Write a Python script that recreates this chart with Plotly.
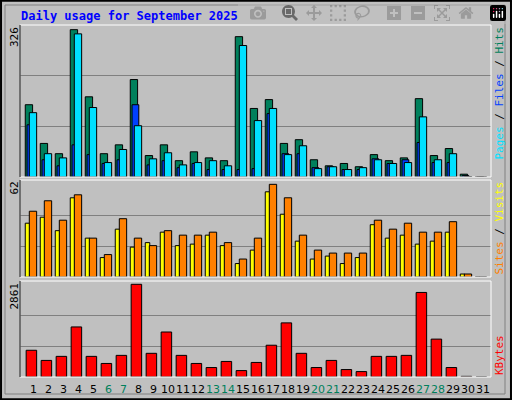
import plotly.graph_objects as go

days = list(range(1, 32))
weekend_days = [6, 7, 13, 14, 20, 21, 27, 28]

hits = [155, 72, 50, 316, 172, 50, 69, 209, 46, 69, 35, 54, 41, 35, 301, 147,
        166, 72, 80, 37, 24, 29, 22, 48, 35, 41, 168, 46, 61, 6, 0]
files = [138, 50, 41, 307, 149, 31, 59, 110, 39, 52, 26, 31, 35, 24, 282, 121,
         147, 48, 67, 18, 22, 16, 20, 37, 29, 31, 129, 37, 50, 1, 0]
pages = [112, 37, 24, 69, 48, 29, 37, 155, 26, 35, 20, 29, 16, 16, 16, 18,
         136, 50, 50, 20, 22, 16, 16, 39, 29, 37, 74, 31, 31, 3, 0]
visits = [44, 51, 38, 55, 26, 15, 39, 26, 21, 31, 28, 28, 30, 23, 12, 26,
          62, 53, 28, 18, 16, 16, 16, 38, 32, 36, 30, 30, 37, 2, 0]
sites = [36, 40, 31, 53, 26, 13, 32, 20, 23, 30, 21, 22, 28, 21, 9, 18,
         57, 42, 24, 12, 14, 9, 13, 35, 26, 28, 22, 24, 30, 2, 0]
kbytes = [825, 512, 637, 1545, 637, 418, 668, 2861, 731, 1389, 668, 418, 292, 480,
          198, 449, 981, 1670, 731, 292, 512, 230, 167, 637, 637, 668, 2610, 1169,
          292, 20, 0]

MAX_TOP, MAX_MID, MAX_BOT = 326, 62, 2861
BG = "#c0c0c0"
line = dict(color="black", width=1)

fig = go.Figure()
fig.add_bar(x=days, y=hits, offset=-0.52, width=0.49, marker=dict(color="#00805c", line=line),
            xaxis="x", yaxis="y")
fig.add_bar(x=days, y=pages, offset=-0.4, width=0.45, marker=dict(color="#0040ff", line=line),
            xaxis="x", yaxis="y")
fig.add_bar(x=days, y=files, offset=-0.25, width=0.49, marker=dict(color="#00e0ff", line=line),
            xaxis="x", yaxis="y")
fig.add_bar(x=days, y=sites, offset=-0.52, width=0.3, marker=dict(color="#ffff00", line=line),
            xaxis="x2", yaxis="y2")
fig.add_bar(x=days, y=visits, offset=-0.25, width=0.49, marker=dict(color="#ff8000", line=line),
            xaxis="x2", yaxis="y2")
fig.add_bar(x=days, y=kbytes, offset=-0.46, width=0.7, marker=dict(color="#ff0000", line=line),
            xaxis="x3", yaxis="y3")

xd = [20 / 512, 491 / 512]
xr = [0.13, 31.53]
xax = dict(domain=xd, range=xr, showgrid=False, showticklabels=False, zeroline=False,
           fixedrange=True)


def yax(dom, top, mx):
    return dict(domain=dom, range=[0, top], tickvals=[mx / 3, 2 * mx / 3], showticklabels=False,
                showgrid=True, gridcolor="#808080", gridwidth=1, zeroline=False)


fig.update_layout(
    width=512, height=400, margin=dict(l=0, r=0, t=0, b=0),
    paper_bgcolor=BG, plot_bgcolor=BG, showlegend=False, barmode="overlay",
    xaxis=dict(xax, anchor="y"), xaxis2=dict(xax, anchor="y2"), xaxis3=dict(xax, anchor="y3"),
    yaxis=dict(yax([0.5575, 0.9375], MAX_TOP, MAX_TOP), anchor="x"),
    yaxis2=dict(yax([0.3075, 0.55], 64.9, MAX_MID), anchor="x2"),
    yaxis3=dict(yax([0.0575, 0.2975], 2963, MAX_BOT), anchor="x3"),
    font=dict(family="DejaVu Sans Mono", size=11, color="black"),
)

shapes = [
    dict(type="rect", xref="paper", yref="paper", x0=0.002, x1=0.998, y0=0.002, y1=0.998,
         line=dict(color="black", width=2)),
    dict(type="rect", xref="paper", yref="paper", x0=5 / 512, x1=505 / 512, y0=6 / 400, y1=395 / 400,
         line=dict(color="#808080", width=1)),
]
for y0, y1 in [(0.5575, 0.9375), (0.3075, 0.55), (0.0575, 0.2975)]:
    shapes.append(dict(type="rect", xref="paper", yref="paper", x0=xd[0], x1=xd[1], y0=y0, y1=y1,
                       line=dict(color="white", width=1)))
    shapes.append(dict(type="line", xref="paper", yref="paper", x0=xd[0], x1=xd[0], y0=y0, y1=y1,
                       line=dict(color="black", width=1)))
fig.update_layout(shapes=shapes)

ann = [
    dict(text="<b>Daily usage for September 2025</b>", x=19 / 512, y=1 - 16 / 400, xref="paper",
         yref="paper", xanchor="left", yanchor="middle", showarrow=False,
         font=dict(color="#0000ff", size=12, family="DejaVu Sans Mono")),
    dict(text=str(MAX_TOP), x=14 / 512, y=0.9375, xref="paper", yref="paper", textangle=-90,
         xanchor="center", yanchor="top", showarrow=False, font=dict(size=11)),
    dict(text=str(MAX_MID), x=14 / 512, y=0.55, xref="paper", yref="paper", textangle=-90,
         xanchor="center", yanchor="top", showarrow=False, font=dict(size=11)),
    dict(text=str(MAX_BOT), x=14 / 512, y=0.2975, xref="paper", yref="paper", textangle=-90,
         xanchor="center", yanchor="top", showarrow=False, font=dict(size=11)),
    dict(text="<span style='color:#00e0ff'>Pages</span> / <span style='color:#0040ff'>Files</span>"
              " / <span style='color:#00805c'>Hits</span>",
         x=499 / 512, y=0.9375, xref="paper", yref="paper", textangle=-90, xanchor="center",
         yanchor="top", showarrow=False, font=dict(size=11)),
    dict(text="<span style='color:#ff8000'>Sites</span> / <span style='color:#ffff00'>Visits</span>",
         x=499 / 512, y=0.55, xref="paper", yref="paper", textangle=-90, xanchor="center",
         yanchor="top", showarrow=False, font=dict(size=11)),
    dict(text="<span style='color:#ff0000'>KBytes</span>", x=499 / 512, y=0.0575, xref="paper",
         yref="paper", textangle=-90, xanchor="center", yanchor="bottom", showarrow=False,
         font=dict(size=11)),
]
for d in days:
    ann.append(dict(text=str(d), x=d, y=1 - 389 / 400, xref="x3", yref="paper", showarrow=False,
                    xanchor="center", yanchor="middle",
                    font=dict(size=11, family="DejaVu Sans",
                              color="#00805c" if d in weekend_days else "black")))
fig.update_layout(annotations=ann)

fig.write_html("out.html",
               post_script="document.body.style.margin='0';document.body.style.overflow='hidden';")
